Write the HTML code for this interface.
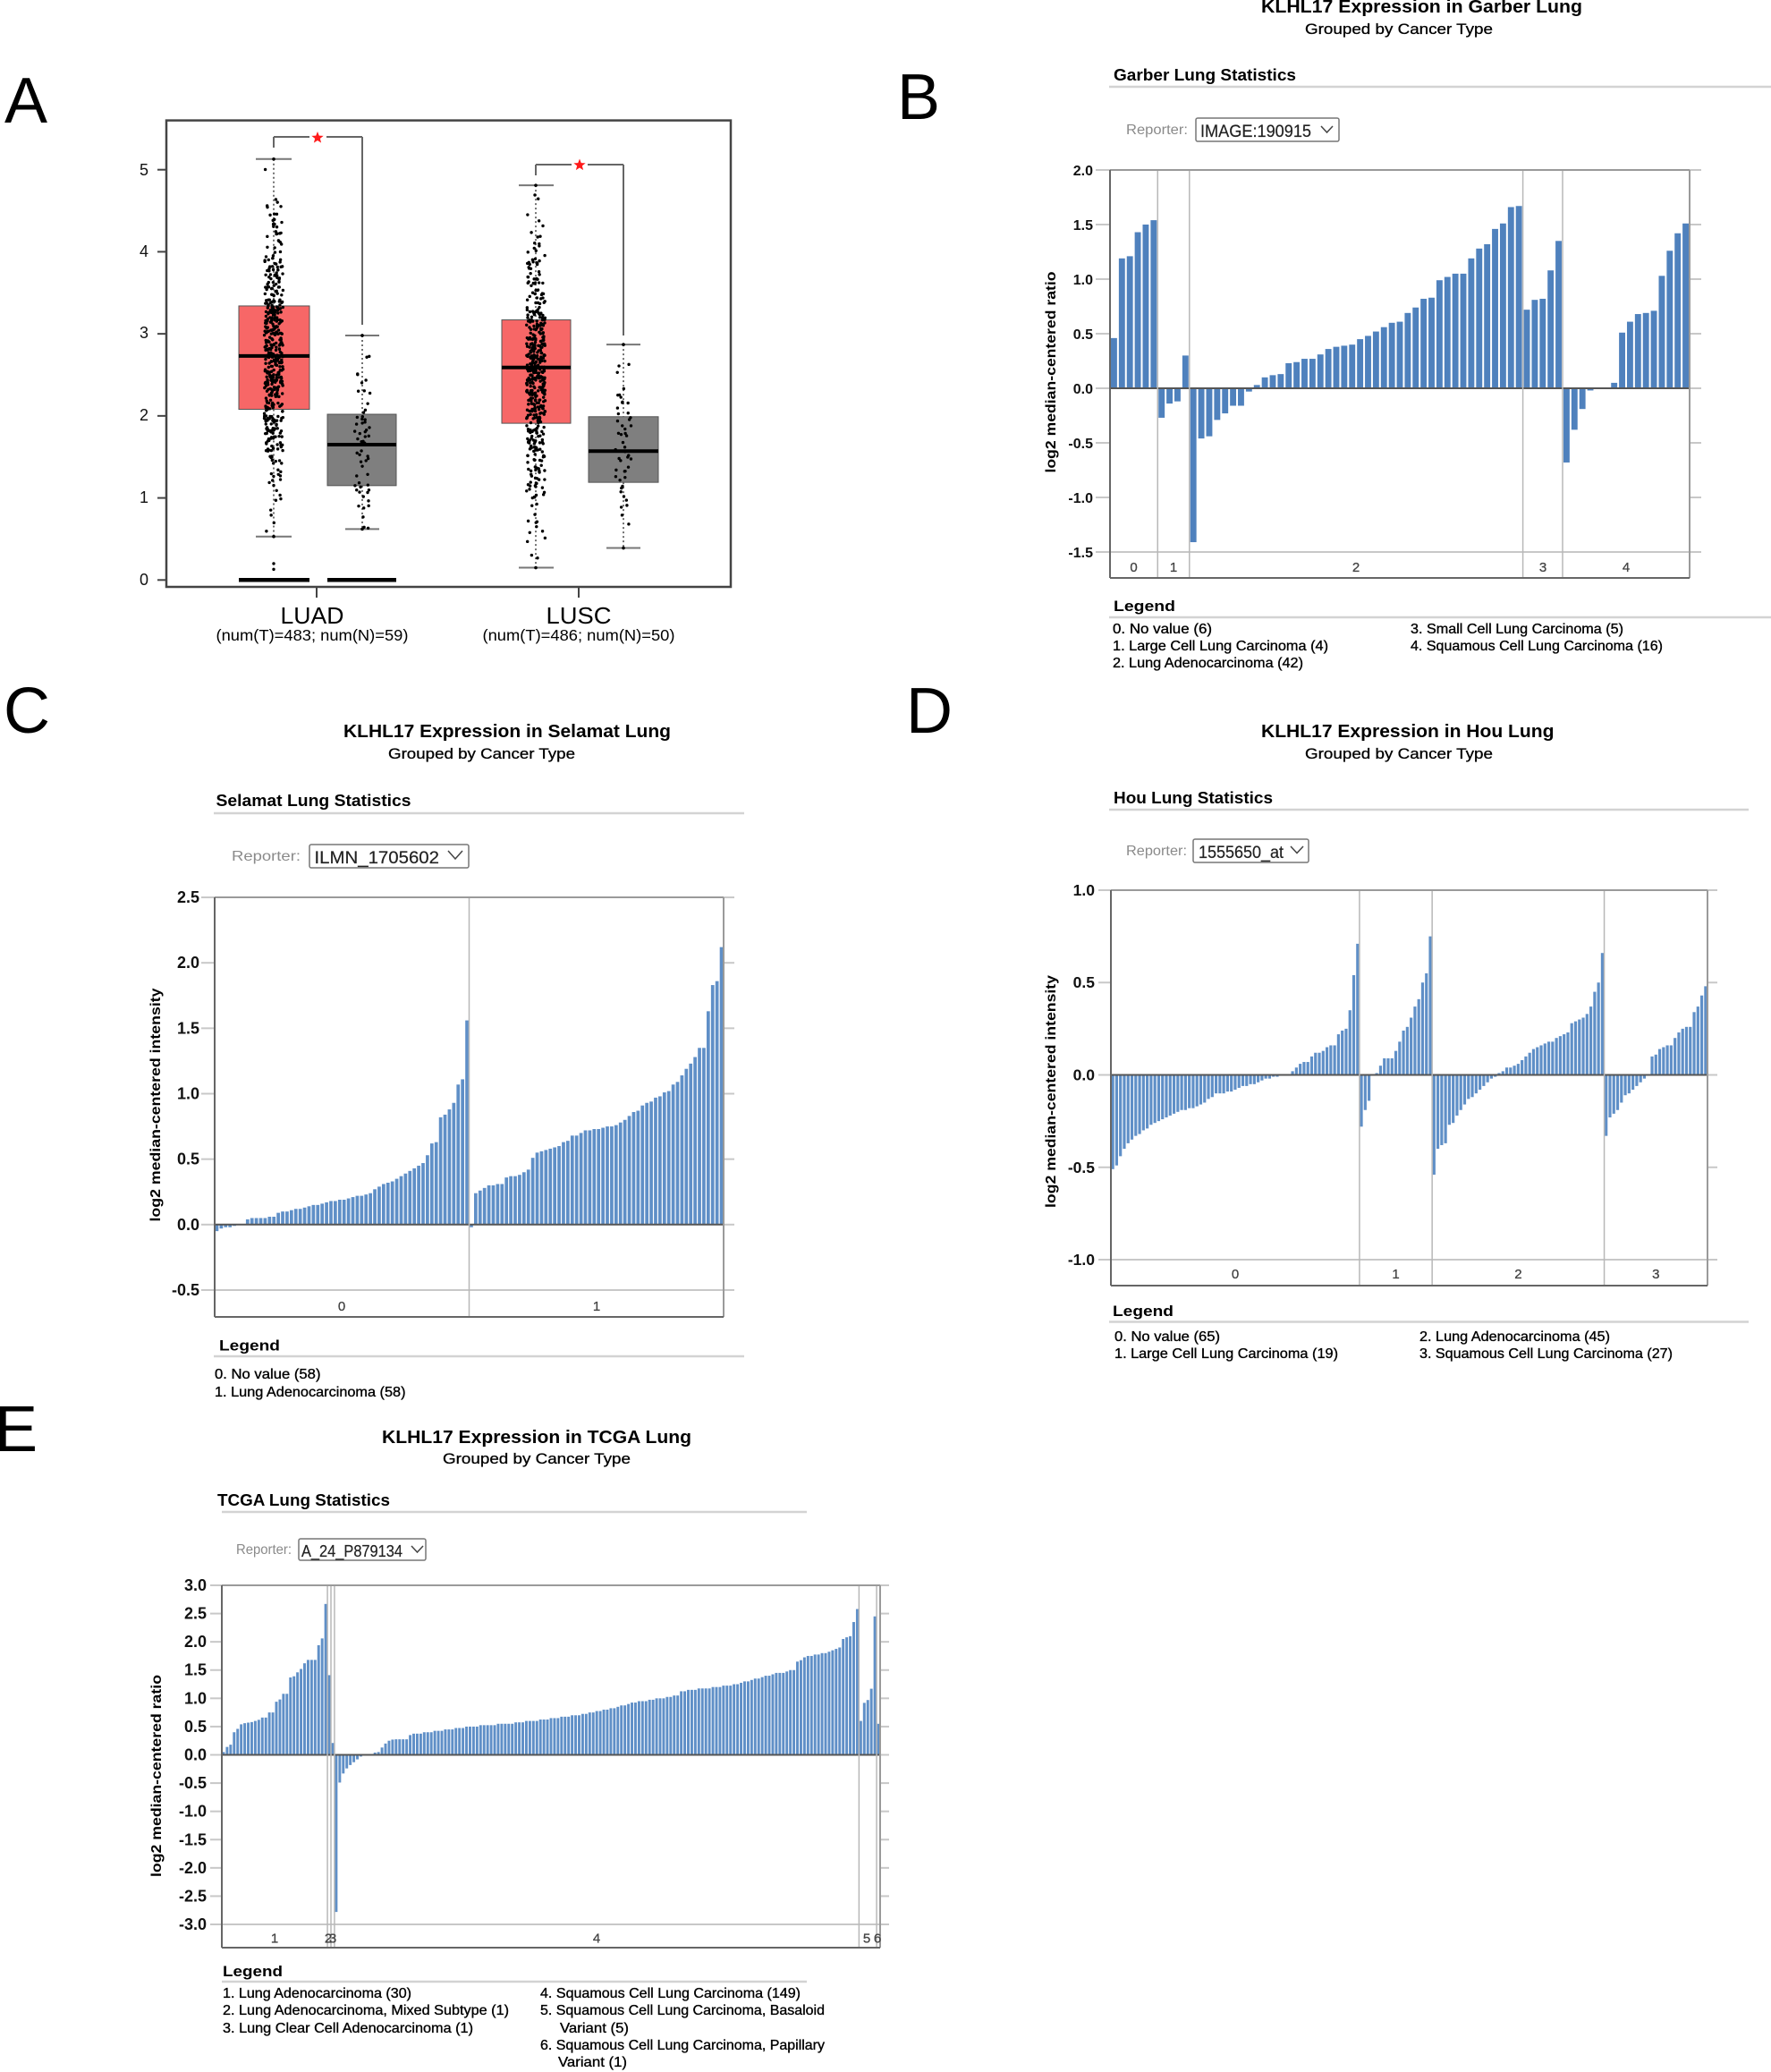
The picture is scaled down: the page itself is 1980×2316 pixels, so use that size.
<!DOCTYPE html>
<html><head><meta charset="utf-8">
<style>
html,body{margin:0;padding:0;background:#fff;}
svg{display:block;font-family:"Liberation Sans",Arial,sans-serif;}
.pl{font-size:72px;fill:#000;}
.ax{font-size:18px;fill:#111;text-anchor:end;}
.ti{font-weight:bold;font-size:20px;fill:#000;}
.st{font-size:17px;fill:#000;stroke:#000;stroke-width:0.3;}
.hd{font-weight:bold;font-size:18px;fill:#000;}
.rp{font-size:16px;fill:#8a8a8a;}
.dd{font-size:19px;fill:#222;stroke:#222;stroke-width:0.2;}
.tk{font-size:16px;fill:#111;text-anchor:end;font-weight:bold;}
.gl{font-size:15px;fill:#444;text-anchor:middle;stroke:#444;stroke-width:0.3;}
.yl{font-weight:bold;font-size:16px;fill:#000;text-anchor:middle;}
.lg{font-weight:bold;font-size:17px;fill:#000;}
.li{font-size:16px;fill:#000;stroke:#000;stroke-width:0.35;}
.rule{stroke:#d3d3d3;stroke-width:2.5;}
.ddb{fill:#fff;stroke:#777;stroke-width:1.5;}
.chev{fill:none;stroke:#444;stroke-width:1.5;}
</style></head>
<body>
<svg id="s" width="1980" height="2316" viewBox="0 0 1980 2316" xmlns="http://www.w3.org/2000/svg">
<g id="dyn"></g>

<!-- Panel letters -->
<text class="pl" x="5" y="137">A</text>
<text class="pl" x="1003" y="133">B</text>
<text class="pl" x="4" y="819">C</text>
<text class="pl" x="1013" y="819">D</text>
<text class="pl" x="-6" y="1622">E</text>

<!-- Panel A text -->
<text class="ax" x="166" y="654">0</text>
<text class="ax" x="166" y="562">1</text>
<text class="ax" x="166" y="470">2</text>
<text class="ax" x="166" y="378">3</text>
<text class="ax" x="166" y="287">4</text>
<text class="ax" x="166" y="196">5</text>
<text x="349" y="697" font-size="26" text-anchor="middle" textLength="71" lengthAdjust="spacingAndGlyphs">LUAD</text>
<text x="349" y="716" font-size="17.5" text-anchor="middle" textLength="215" lengthAdjust="spacingAndGlyphs">(num(T)=483; num(N)=59)</text>
<text x="647" y="697" font-size="26" text-anchor="middle" textLength="73" lengthAdjust="spacingAndGlyphs">LUSC</text>
<text x="647" y="716" font-size="17.5" text-anchor="middle" textLength="215" lengthAdjust="spacingAndGlyphs">(num(T)=486; num(N)=50)</text>

<!-- Panel B text -->
<text class="ti" x="1410" y="14" textLength="359" lengthAdjust="spacingAndGlyphs">KLHL17 Expression in Garber Lung</text>
<text class="st" x="1459" y="38" textLength="210" lengthAdjust="spacingAndGlyphs">Grouped by Cancer Type</text>
<text class="hd" x="1245" y="90" textLength="204" lengthAdjust="spacingAndGlyphs">Garber Lung Statistics</text>
<line class="rule" x1="1240" y1="97" x2="1980" y2="97"/>
<text class="rp" x="1259" y="150" textLength="69" lengthAdjust="spacingAndGlyphs">Reporter:</text>
<rect class="ddb" x="1337" y="132" width="160" height="26" rx="2"/>
<text class="dd" x="1342" y="153" textLength="124" lengthAdjust="spacingAndGlyphs">IMAGE:190915</text>
<polyline class="chev" points="1477,141 1483.5,148 1490,141"/>
<text class="tk" x="1222" y="196">2.0</text>
<text class="tk" x="1222" y="257">1.5</text>
<text class="tk" x="1222" y="318">1.0</text>
<text class="tk" x="1222" y="379">0.5</text>
<text class="tk" x="1222" y="440">0.0</text>
<text class="tk" x="1222" y="501">-0.5</text>
<text class="tk" x="1222" y="562">-1.0</text>
<text class="tk" x="1222" y="623">-1.5</text>
<text class="yl" transform="translate(1180,416) rotate(-90)" textLength="225" lengthAdjust="spacingAndGlyphs">log2 median-centered ratio</text>
<text class="gl" x="1267.6" y="639">0</text>
<text class="gl" x="1312" y="639">1</text>
<text class="gl" x="1516" y="639">2</text>
<text class="gl" x="1725" y="639">3</text>
<text class="gl" x="1818" y="639">4</text>
<text class="lg" x="1245" y="683" textLength="69" lengthAdjust="spacingAndGlyphs">Legend</text>
<line class="rule" x1="1240" y1="690" x2="1980" y2="690"/>
<text class="li" x="1244" y="708" textLength="111" lengthAdjust="spacingAndGlyphs">0. No value (6)</text>
<text class="li" x="1244" y="727" textLength="241" lengthAdjust="spacingAndGlyphs">1. Large Cell Lung Carcinoma (4)</text>
<text class="li" x="1244" y="746" textLength="213" lengthAdjust="spacingAndGlyphs">2. Lung Adenocarcinoma (42)</text>
<text class="li" x="1577" y="708" textLength="238" lengthAdjust="spacingAndGlyphs">3. Small Cell Lung Carcinoma (5)</text>
<text class="li" x="1577" y="727" textLength="282" lengthAdjust="spacingAndGlyphs">4. Squamous Cell Lung Carcinoma (16)</text>

<!-- Panel C text -->
<text class="ti" x="384" y="824" textLength="366" lengthAdjust="spacingAndGlyphs">KLHL17 Expression in Selamat Lung</text>
<text class="st" x="434" y="848" textLength="209" lengthAdjust="spacingAndGlyphs">Grouped by Cancer Type</text>
<text class="hd" x="241.5" y="901" textLength="218" lengthAdjust="spacingAndGlyphs">Selamat Lung Statistics</text>
<line class="rule" x1="239" y1="909" x2="832" y2="909"/>
<text class="rp" x="259" y="962" textLength="77" lengthAdjust="spacingAndGlyphs">Reporter:</text>
<rect class="ddb" x="346" y="944" width="178" height="26" rx="2"/>
<text class="dd" x="351.5" y="965" textLength="139.5" lengthAdjust="spacingAndGlyphs">ILMN_1705602</text>
<polyline class="chev" points="501,951 509,960 517,951"/>
<text class="tk" x="223" y="1009" style="font-size:18px">2.5</text>
<text class="tk" x="223" y="1082" style="font-size:18px">2.0</text>
<text class="tk" x="223" y="1155.5" style="font-size:18px">1.5</text>
<text class="tk" x="223" y="1228.5" style="font-size:18px">1.0</text>
<text class="tk" x="223" y="1301.5" style="font-size:18px">0.5</text>
<text class="tk" x="223" y="1375" style="font-size:18px">0.0</text>
<text class="tk" x="223" y="1448" style="font-size:18px">-0.5</text>
<text class="yl" transform="translate(179,1235) rotate(-90)" textLength="261" lengthAdjust="spacingAndGlyphs">log2 median-centered intensity</text>
<text class="gl" x="382" y="1465">0</text>
<text class="gl" x="667" y="1465">1</text>
<text class="lg" x="245" y="1509.5" textLength="68" lengthAdjust="spacingAndGlyphs">Legend</text>
<line class="rule" x1="239" y1="1516" x2="832" y2="1516"/>
<text class="li" x="240" y="1541" textLength="118.5" lengthAdjust="spacingAndGlyphs">0. No value (58)</text>
<text class="li" x="240" y="1561" textLength="213.5" lengthAdjust="spacingAndGlyphs">1. Lung Adenocarcinoma (58)</text>

<!-- Panel D text -->
<text class="ti" x="1410" y="824" textLength="327.5" lengthAdjust="spacingAndGlyphs">KLHL17 Expression in Hou Lung</text>
<text class="st" x="1459" y="848" textLength="210" lengthAdjust="spacingAndGlyphs">Grouped by Cancer Type</text>
<text class="hd" x="1245" y="898" textLength="178" lengthAdjust="spacingAndGlyphs">Hou Lung Statistics</text>
<line class="rule" x1="1240" y1="905" x2="1955" y2="905"/>
<text class="rp" x="1259" y="956" textLength="68" lengthAdjust="spacingAndGlyphs">Reporter:</text>
<rect class="ddb" x="1334" y="938" width="129" height="26" rx="2"/>
<text class="dd" x="1340" y="959" textLength="95" lengthAdjust="spacingAndGlyphs">1555650_at</text>
<polyline class="chev" points="1443,946 1450,953.5 1457,946"/>
<text class="tk" x="1224" y="1001" style="font-size:17.5px">1.0</text>
<text class="tk" x="1224" y="1104" style="font-size:17.5px">0.5</text>
<text class="tk" x="1224" y="1207.5" style="font-size:17.5px">0.0</text>
<text class="tk" x="1224" y="1311" style="font-size:17.5px">-0.5</text>
<text class="tk" x="1224" y="1414" style="font-size:17.5px">-1.0</text>
<text class="yl" transform="translate(1180,1220) rotate(-90)" textLength="260" lengthAdjust="spacingAndGlyphs">log2 median-centered intensity</text>
<text class="gl" x="1381" y="1429">0</text>
<text class="gl" x="1560.5" y="1429">1</text>
<text class="gl" x="1697.4" y="1429">2</text>
<text class="gl" x="1851.3" y="1429">3</text>
<text class="lg" x="1244" y="1471" textLength="68" lengthAdjust="spacingAndGlyphs">Legend</text>
<line class="rule" x1="1240" y1="1477.5" x2="1955" y2="1477.5"/>
<text class="li" x="1246" y="1499" textLength="118" lengthAdjust="spacingAndGlyphs">0. No value (65)</text>
<text class="li" x="1246" y="1518" textLength="250" lengthAdjust="spacingAndGlyphs">1. Large Cell Lung Carcinoma (19)</text>
<text class="li" x="1587" y="1499" textLength="213" lengthAdjust="spacingAndGlyphs">2. Lung Adenocarcinoma (45)</text>
<text class="li" x="1587" y="1518" textLength="283" lengthAdjust="spacingAndGlyphs">3. Squamous Cell Lung Carcinoma (27)</text>

<!-- Panel E text -->
<text class="ti" x="427" y="1613" textLength="346" lengthAdjust="spacingAndGlyphs">KLHL17 Expression in TCGA Lung</text>
<text class="st" x="495" y="1636" textLength="210" lengthAdjust="spacingAndGlyphs">Grouped by Cancer Type</text>
<text class="hd" x="243" y="1683" textLength="193" lengthAdjust="spacingAndGlyphs">TCGA Lung Statistics</text>
<line class="rule" x1="248" y1="1690" x2="902" y2="1690"/>
<text class="rp" x="264" y="1737" textLength="62" lengthAdjust="spacingAndGlyphs">Reporter:</text>
<rect class="ddb" x="334" y="1720" width="142" height="24" rx="2"/>
<text class="dd" x="337" y="1740" style="font-size:18px" textLength="113" lengthAdjust="spacingAndGlyphs">A_24_P879134</text>
<polyline class="chev" points="460,1728 466.5,1735 473,1728"/>
<text class="tk" x="231" y="1778" style="font-size:18px">3.0</text>
<text class="tk" x="231" y="1809.6" style="font-size:18px">2.5</text>
<text class="tk" x="231" y="1841.2" style="font-size:18px">2.0</text>
<text class="tk" x="231" y="1872.7" style="font-size:18px">1.5</text>
<text class="tk" x="231" y="1904.3" style="font-size:18px">1.0</text>
<text class="tk" x="231" y="1935.9" style="font-size:18px">0.5</text>
<text class="tk" x="231" y="1967.5" style="font-size:18px">0.0</text>
<text class="tk" x="231" y="1999.1" style="font-size:18px">-0.5</text>
<text class="tk" x="231" y="2030.7" style="font-size:18px">-1.0</text>
<text class="tk" x="231" y="2062.3" style="font-size:18px">-1.5</text>
<text class="tk" x="231" y="2093.8" style="font-size:18px">-2.0</text>
<text class="tk" x="231" y="2125.4" style="font-size:18px">-2.5</text>
<text class="tk" x="231" y="2157" style="font-size:18px">-3.0</text>
<text class="yl" transform="translate(180,1985) rotate(-90)" textLength="226" lengthAdjust="spacingAndGlyphs">log2 median-centered ratio</text>
<text class="gl" x="307" y="2171.5">1</text>
<text class="gl" x="367" y="2171.5">2</text>
<text class="gl" x="372" y="2171.5">3</text>
<text class="gl" x="667" y="2171.5">4</text>
<text class="gl" x="969" y="2171.5">5</text>
<text class="gl" x="981" y="2171.5">6</text>
<text class="lg" x="249" y="2209" textLength="67" lengthAdjust="spacingAndGlyphs">Legend</text>
<line class="rule" x1="248" y1="2215" x2="902" y2="2215"/>
<text class="li" x="249" y="2233" textLength="211" lengthAdjust="spacingAndGlyphs">1. Lung Adenocarcinoma (30)</text>
<text class="li" x="249" y="2252" textLength="320" lengthAdjust="spacingAndGlyphs">2. Lung Adenocarcinoma, Mixed Subtype (1)</text>
<text class="li" x="249" y="2272" textLength="280" lengthAdjust="spacingAndGlyphs">3. Lung Clear Cell Adenocarcinoma (1)</text>
<text class="li" x="604" y="2233" textLength="291" lengthAdjust="spacingAndGlyphs">4. Squamous Cell Lung Carcinoma (149)</text>
<text class="li" x="604" y="2252" textLength="318" lengthAdjust="spacingAndGlyphs">5. Squamous Cell Lung Carcinoma, Basaloid</text>
<text class="li" x="626" y="2272" textLength="77" lengthAdjust="spacingAndGlyphs">Variant (5)</text>
<text class="li" x="604" y="2291" textLength="318" lengthAdjust="spacingAndGlyphs">6. Squamous Cell Lung Carcinoma, Papillary</text>
<text class="li" x="624" y="2310" textLength="77" lengthAdjust="spacingAndGlyphs">Variant (1)</text>
</svg>

<script>
(function(){
var NS='http://www.w3.org/2000/svg';
var S=document.getElementById('dyn');
function E(t,a,p){var e=document.createElementNS(NS,t);for(var k in a)e.setAttribute(k,a[k]);(p||S).appendChild(e);return e;}
function L(x1,y1,x2,y2,c,w,ex){var a={x1:x1,y1:y1,x2:x2,y2:y2,stroke:c,'stroke-width':w};if(ex)for(var k in ex)a[k]=ex[k];return E('line',a);}

/* ---------- Panel A ---------- */
var seed=987654;
function R(){seed|=0;seed=seed+0x6D2B79F5|0;var t=Math.imul(seed^seed>>>15,1|seed);t=t+Math.imul(t^t>>>7,61|t)^t;return((t^t>>>14)>>>0)/4294967296;}
function gauss(){var u=0;while(u===0)u=R();var v=R();return Math.sqrt(-2*Math.log(u))*Math.cos(2*Math.PI*v);}
function ya(v){return 648.3-91.72*v;}

E('rect',{x:186,y:134.6,width:631,height:521.4,fill:'none',stroke:'#444','stroke-width':2.5});
[0,1,2,3,4,5].forEach(function(v){L(176,ya(v),186,ya(v),'#444',2);});
L(354,656,354,668,'#444',2);L(647,656,647,668,'#444',2);

function box(cx,bx0,bx1,q1,med,q3,lo,hi,fill,c0,c1,zero){
  L(cx,ya(hi),cx,ya(q3),'#444',1.5,{'stroke-dasharray':'2,3'});
  L(cx,ya(q1),cx,ya(lo),'#444',1.5,{'stroke-dasharray':'2,3'});
  L(c0,ya(hi),c1,ya(hi),'#777',2);L(c0,ya(lo),c1,ya(lo),'#777',2);
  E('rect',{x:bx0,y:ya(q3),width:bx1-bx0,height:ya(q1)-ya(q3),fill:fill,stroke:'#555','stroke-width':1});
  L(bx0,ya(med),bx1,ya(med),'#000',4);
  if(zero)L(bx0,ya(0),bx1,ya(0),'#000',4.5);
}
function dots(cx,n,mu,sd,lo,hi,sp){
  var k=0,guard=0;
  while(k<n&&guard<100000){guard++;var v=mu+sd*gauss();if(v<lo||v>hi)continue;
    E('circle',{cx:cx+(R()*2-1)*sp,cy:ya(v),r:1.7,fill:'#000'});k++;}
  E('circle',{cx:cx,cy:ya(hi),r:1.8,fill:'#000'});E('circle',{cx:cx,cy:ya(lo),r:1.8,fill:'#000'});
}
box(306,267,346,2.08,2.73,3.34,0.53,5.13,'#f76767',286,326,true);
box(405,366,443,1.15,1.65,2.02,0.62,2.98,'#7f7f7f',386,424,true);
box(599,561,638,1.91,2.59,3.17,0.15,4.81,'#f76767',580,619,false);
box(697,658,736,1.19,1.57,1.99,0.39,2.87,'#7f7f7f',678,716,false);
dots(306,470,2.72,0.78,0.53,5.13,10.5);
E('circle',{cx:306,cy:ya(0.2),r:1.7,fill:'#000'});E('circle',{cx:306,cy:ya(0.13),r:1.7,fill:'#000'});
dots(405,57,1.62,0.5,0.62,2.98,9);
dots(599,480,2.55,0.8,0.15,4.81,10.5);
dots(697,48,1.6,0.5,0.39,2.87,9);

function star(cx,cy,ro,ri){var p=[];for(var i=0;i<10;i++){var r=i%2?ri:ro;var a=-Math.PI/2+i*Math.PI/5;p.push((cx+r*Math.cos(a)).toFixed(2)+','+(cy+r*Math.sin(a)).toFixed(2));}E('polygon',{points:p.join(' '),fill:'#ff1a1a'});}
L(306,153,306,165,'#666',2);L(306,153,346,153,'#666',2);L(365,153,405,153,'#666',2);L(405,153,405,363,'#666',2);star(355,154,7,3);
L(599,184,599,196,'#666',2);L(599,184,639,184,'#666',2);L(657,184,697,184,'#666',2);L(697,184,697,375,'#666',2);star(648,184.5,7,3);

/* ---------- Bar charts ---------- */
function chart(c){
  var n=0;c.groups.forEach(function(g){n+=g.length;});
  var w=(c.x1-c.x0)/n;
  c.ticks.forEach(function(t){var y=c.zero-t*c.unit;L(c.x0-c.tl,y,c.x0,y,'#c8c8c8',2);L(c.x1,y,c.x1+c.tr,y,'#c8c8c8',2);});
  var low=c.zero-c.ticks[c.ticks.length-1]*c.unit;
  L(c.x0,low,c.x1,low,'#c8c8c8',2);
  var i=0,seps=[];
  c.groups.forEach(function(g){g.forEach(function(v){var x=c.x0+i*w;var h=Math.abs(v)*c.unit;
    if(h>0.2)E('rect',{x:x+c.gap/2,y:v>0?c.zero-h:c.zero,width:w-c.gap,height:h,fill:c.fill});i++;});seps.push(c.x0+i*w);});
  L(c.x0,c.zero,c.x1,c.zero,'#555',2);
  seps.slice(0,-1).forEach(function(x){L(x,c.top,x,c.bottom,'#b8b8b8',1.5);});
  L(c.x0,c.top,c.x1,c.top,'#9a9a9a',2);L(c.x1,c.top,c.x1,c.bottom,'#9a9a9a',2);
  L(c.x0,c.top,c.x0,c.bottom,'#666',2);L(c.x0,c.bottom,c.x1,c.bottom,'#666',2);
}

chart({x0:1241,x1:1889,top:190,bottom:646,zero:434,unit:122,tl:16,tr:13,gap:2,fill:'#4f81bd',
 ticks:[2,1.5,1,0.5,0,-0.5,-1,-1.5],
 groups:[[0.46,1.19,1.21,1.43,1.50,1.54],[-0.27,-0.14,-0.12,0.30],
 [-1.41,-0.46,-0.44,-0.29,-0.23,-0.16,-0.16,-0.03,0.03,0.10,0.12,0.13,0.23,0.24,0.27,0.27,0.31,0.36,0.38,0.39,0.40,0.45,0.48,0.52,0.56,0.60,0.61,0.69,0.74,0.82,0.83,0.99,1.02,1.05,1.05,1.19,1.28,1.32,1.46,1.51,1.66,1.67],
 [0.72,0.81,0.82,1.08,1.35],
 [-0.68,-0.38,-0.19,-0.02,0,0,0.05,0.51,0.61,0.68,0.69,0.71,1.03,1.26,1.42,1.51]]});

chart({x0:240,x1:809,top:1003,bottom:1472,zero:1368.8,unit:146.3,tl:15,tr:12,gap:1.2,fill:'#5f8fc7',
 ticks:[2.5,2,1.5,1,0.5,0,-0.5],
 groups:[[-0.05,-0.03,-0.02,-0.02,-0.01,0,0,0.04,0.05,0.05,0.05,0.05,0.06,0.06,0.09,0.10,0.10,0.11,0.12,0.12,0.13,0.14,0.15,0.15,0.16,0.17,0.18,0.18,0.19,0.19,0.20,0.21,0.22,0.22,0.23,0.24,0.27,0.29,0.31,0.32,0.33,0.35,0.37,0.39,0.41,0.43,0.45,0.47,0.53,0.62,0.63,0.82,0.84,0.88,0.93,1.07,1.11,1.56],
 [-0.02,0.24,0.26,0.28,0.30,0.30,0.31,0.31,0.36,0.37,0.37,0.38,0.40,0.42,0.51,0.55,0.56,0.57,0.58,0.59,0.60,0.63,0.64,0.68,0.68,0.70,0.72,0.72,0.73,0.73,0.74,0.75,0.75,0.76,0.78,0.80,0.83,0.86,0.87,0.91,0.93,0.94,0.97,0.98,1.01,1.02,1.07,1.09,1.14,1.19,1.23,1.28,1.35,1.35,1.63,1.83,1.86,2.12]]});

chart({x0:1242,x1:1909,top:995,bottom:1437,zero:1201.5,unit:206.5,tl:14,tr:11,gap:1.1,fill:'#5f8fc7',
 ticks:[1,0.5,0,-0.5,-1],
 groups:[[-0.51,-0.49,-0.44,-0.40,-0.37,-0.35,-0.33,-0.32,-0.30,-0.29,-0.27,-0.26,-0.25,-0.24,-0.23,-0.22,-0.21,-0.20,-0.19,-0.19,-0.18,-0.18,-0.17,-0.16,-0.15,-0.13,-0.12,-0.10,-0.10,-0.10,-0.09,-0.09,-0.08,-0.07,-0.06,-0.06,-0.05,-0.05,-0.04,-0.03,-0.02,-0.02,-0.01,-0.01,0,0,0,0.02,0.04,0.06,0.07,0.07,0.10,0.12,0.12,0.13,0.15,0.16,0.16,0.22,0.24,0.25,0.35,0.54,0.71],
 [-0.28,-0.19,-0.14,0,0.01,0.05,0.09,0.09,0.09,0.13,0.18,0.24,0.26,0.31,0.37,0.41,0.50,0.55,0.75],
 [-0.54,-0.40,-0.38,-0.37,-0.27,-0.26,-0.22,-0.19,-0.16,-0.13,-0.12,-0.10,-0.08,-0.06,-0.04,-0.02,-0.01,0.01,0.02,0.04,0.04,0.05,0.06,0.08,0.10,0.12,0.14,0.15,0.16,0.17,0.18,0.18,0.20,0.21,0.22,0.23,0.28,0.29,0.30,0.31,0.33,0.37,0.45,0.50,0.66],
 [-0.33,-0.23,-0.21,-0.19,-0.15,-0.11,-0.10,-0.08,-0.06,-0.04,-0.02,0,0.10,0.11,0.14,0.15,0.16,0.16,0.20,0.23,0.25,0.26,0.26,0.34,0.37,0.43,0.48]]});

var cp=[[0,-2.78],[1,-0.49],[2,-0.33],[3,-0.24],[4,-0.18],[5,-0.13],[6,-0.08],[7,-0.03],[8,-0.01],[9,0],[10,0],[11,0.04],[12,0.05],[13,0.13],[14,0.2],[15,0.25],[16,0.27],[20,0.28],[21,0.36],[30,0.43],[38,0.5],[50,0.56],[60,0.63],[70,0.72],[78,0.82],[84,0.92],[92,1.0],[97,1.05],[98,1.13],[108,1.2],[114,1.25],[122,1.4],[130,1.5],[131,1.65],[134,1.75],[140,1.82],[143,1.9],[144,2.05],[145,2.08],[146,2.1],[147,2.35],[148,2.58]];
var g4=[];
for(var i=0;i<149;i++){var j=0;while(j<cp.length-1&&cp[j+1][0]<i)j++;var a=cp[j],b=cp[Math.min(j+1,cp.length-1)];
  var v=(b[0]===a[0])?a[1]:a[1]+(b[1]-a[1])*(i-a[0])/(b[0]-a[0]);if(i===b[0])v=b[1];
  if(i>16&&i<144)v=Math.round(v/0.025)*0.025;g4.push(v);}
chart({x0:248,x1:984,top:1772,bottom:2177,zero:1961.5,unit:63.17,tl:13,tr:10,gap:1,fill:'#5f8fc7',
 ticks:[3,2.5,2,1.5,1,0.5,0,-0.5,-1,-1.5,-2,-2.5,-3],
 groups:[[0.05,0.14,0.18,0.40,0.46,0.54,0.56,0.57,0.58,0.60,0.62,0.66,0.66,0.75,0.75,0.94,0.98,1.08,1.08,1.37,1.39,1.46,1.52,1.62,1.68,1.68,1.68,1.94,2.06,2.67],
 [1.41],[0.21],g4,[0.6,0.92,0.97,1.17,2.45],[0.55]]});
})();
</script>
</body></html>
